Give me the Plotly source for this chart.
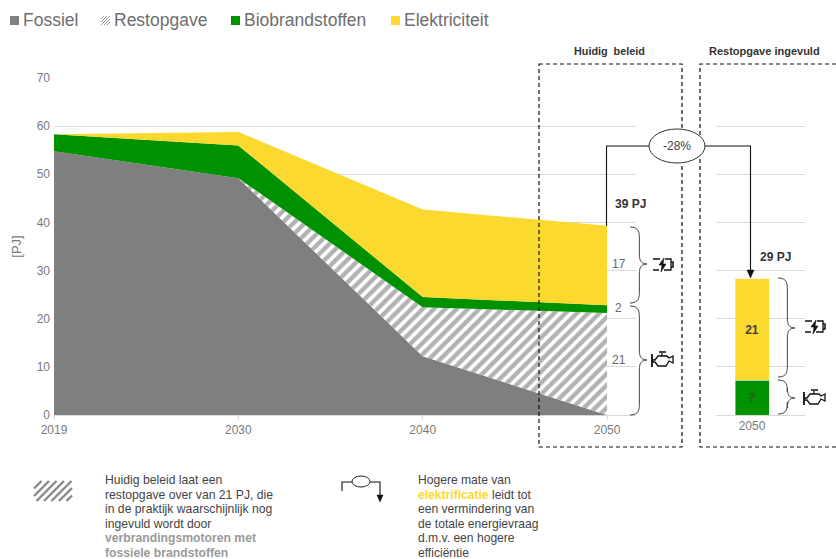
import plotly.graph_objects as go

W, H = 836, 559
YEARS = ["2019", "2030", "2040", "2050"]
FOSSIEL = [54.8, 49.2, 12.2, 0.0]
RESTOPGAVE = [0.0, 0.0, 10.2, 21.2]
BIOBRANDSTOFFEN = [3.5, 6.8, 2.1, 1.6]
ELEKTRICITEIT = [0.0, 2.8, 18.2, 16.5]
BAR_CATEGORY = ["2050"]
BAR_GROEN = [7.2]
BAR_GEEL = [21.1]
GREY, GREEN, YELLOW = "#7f7f7f", "#009100", "#fbd92f"
TXT, GRID = "#7a7a7a", "#d9d9d9"
FONT = "Liberation Sans"


def px(x):
    return x / W


def py(y):
    return 1 - y / H


def path(cmds):
    out = []
    for c in cmds:
        if isinstance(c, str):
            out.append(c)
        else:
            out.append(f"{px(c[0]):.5f},{py(c[1]):.5f}")
    return " ".join(out)


shapes = []


def add_path(cmds, color="#222", width=1.2, dash="solid", fill=None):
    s = dict(type="path", xref="paper", yref="paper", path=path(cmds),
             line=dict(color=color, width=width, dash=dash), layer="above")
    if fill:
        s["fillcolor"] = fill
    shapes.append(s)


def brace(x0, tip, y0, ymid, y1):
    c1 = x0 + (tip - x0) * 0.55
    add_path(["M", (x0, y0), "C", (c1, y0), (c1, y0 + 6), (c1, y0 + 12),
              "L", (c1, ymid - 10), "C", (c1, ymid - 3), (c1 + 2, ymid), (tip, ymid),
              "C", (c1 + 2, ymid), (c1, ymid + 3), (c1, ymid + 10),
              "L", (c1, y1 - 12), "C", (c1, y1 - 6), (c1, y1), (x0, y1)], color="#444", width=1)


def battery(x, y):
    add_path(["M", (x, y), "L", (x + 7, y), "M", (x + 12, y), "L", (x + 18, y), "L", (x + 18, y + 11),
              "L", (x + 11, y + 11), "M", (x + 6, y + 11), "L", (x, y + 11), "Z"], color="#111", width=1.3)
    add_path(["M", (x + 18, y + 3), "L", (x + 20, y + 3), "L", (x + 20, y + 8), "L", (x + 18, y + 8)], color="#111", width=1.5)
    add_path(["M", (x + 11, y - 1), "L", (x + 6, y + 6), "L", (x + 9, y + 6), "L", (x + 8, y + 13),
              "L", (x + 13, y + 5), "L", (x + 10, y + 5), "Z"], color="#111", width=0.6, fill="#111")


def engine(x, y):
    add_path(["M", (x, y + 2), "L", (x, y + 15)], color="#111", width=1.8)
    add_path(["M", (x, y + 8), "L", (x + 3, y + 8), "L", (x + 6, y + 4), "L", (x + 15, y + 4), "L", (x + 17, y + 6),
              "L", (x + 21, y + 4), "L", (x + 21, y + 11), "L", (x + 17, y + 9), "L", (x + 14, y + 14),
              "L", (x + 6, y + 14), "L", (x + 3, y + 10), "L", (x, y + 10)], color="#111", width=1.3)
    add_path(["M", (x + 10, y + 4), "L", (x + 10, y + 1), "M", (x + 7, y), "L", (x + 14, y)], color="#111", width=1.3)


def hatch_swatch(x0, y0, x1, y1, step, color=GREY, width=2.2):
    h = y1 - y0
    s = x0 - h
    while s < x1:
        xa, ya = s, y1
        xb, yb = s + h, y0
        if xa < x0:
            ya -= x0 - xa
            xa = x0
        if xb > x1:
            yb += xb - x1
            xb = x1
        if xb > xa:
            add_path(["M", (xa, ya), "L", (xb, yb)], color=color, width=width)
        s += step


fig = go.Figure()
fig.add_trace(go.Scatter(x=YEARS, y=FOSSIEL, name="Fossiel", stackgroup="a", mode="none", fillcolor=GREY))
fig.add_trace(go.Scatter(x=YEARS, y=RESTOPGAVE, name="Restopgave", stackgroup="a", mode="none",
                         fillcolor="white",
                         fillpattern=dict(shape="/", fgcolor="#666666", bgcolor="white", size=8, solidity=0.55)))
fig.add_trace(go.Scatter(x=YEARS, y=BIOBRANDSTOFFEN, name="Biobrandstoffen", stackgroup="a", mode="none", fillcolor=GREEN))
fig.add_trace(go.Scatter(x=YEARS, y=ELEKTRICITEIT, name="Elektriciteit", stackgroup="a", mode="none", fillcolor=YELLOW))

BAR_X = [0]
fig.add_trace(go.Bar(x=BAR_X, y=BAR_GROEN, name="Biobrandstoffen", marker_color=GREEN, xaxis="x2", yaxis="y2",
                     width=1, text=[f"<b>{v:.0f}</b>" for v in BAR_GROEN], textposition="inside",
                     insidetextanchor="middle", textangle=0, constraintext="none",
                     textfont=dict(family=FONT, size=12, color="#2a5c22")))
fig.add_trace(go.Bar(x=BAR_X, y=BAR_GEEL, name="Elektriciteit", marker_color=YELLOW, xaxis="x2", yaxis="y2",
                     width=1, text=[f"<b>{v:.0f}</b>" for v in BAR_GEEL], textposition="inside",
                     insidetextanchor="middle", textangle=0, constraintext="none",
                     textfont=dict(family=FONT, size=12, color="#3f3f3f")))

ann = []


def text(x, y, s, size=11.5, color=TXT, anchor="left", **kw):
    ann.append(dict(xref="paper", yref="paper", x=px(x), y=py(y), text=s, showarrow=False,
                    xanchor=anchor, yanchor="middle", borderpad=0, align=anchor,
                    font=dict(family=FONT, size=size, color=color), **kw))


LEG = [(10, "Fossiel", GREY), (101, "Restopgave", None), (231, "Biobrandstoffen", GREEN), (391, "Elektriciteit", YELLOW)]
for lx, name, col in LEG:
    if col:
        shapes.append(dict(type="rect", xref="paper", yref="paper", x0=px(lx), x1=px(lx + 9), y0=py(25), y1=py(16),
                           fillcolor=col, line_width=0))
    else:
        hatch_swatch(lx, 16, lx + 9, 25, 3, color="#999", width=1)
    text(lx + 12, 20, name, size=17.5, color="#6e6e6e")

add_path(["M", (539, 64), "L", (682, 64), "L", (682, 447), "L", (539, 447), "Z"], color="#111", width=1.2, dash="4px,3px")
add_path(["M", (836, 64), "L", (700, 64), "L", (700, 447), "L", (836, 447)], color="#111", width=1.2, dash="4px,3px")
text(609, 51, "<b>Huidig  beleid</b>", size=10.8, color="#333", anchor="center")
text(764.5, 51, "<b>Restopgave ingevuld</b>", size=11, color="#333", anchor="center")

add_path(["M", (606.5, 226), "L", (606.5, 146), "L", (650, 146)], color="#111", width=1.1)
add_path(["M", (705, 146), "L", (750.5, 146), "L", (750.5, 271)], color="#111", width=1.1)
add_path(["M", (747, 270), "L", (754, 270), "L", (750.5, 278), "Z"], color="#111", width=0.5, fill="#111")
shapes.append(dict(type="circle", xref="paper", yref="paper", x0=px(649), x1=px(705), y0=py(129), y1=py(163),
                   fillcolor="white", line=dict(color="#333", width=1), layer="above"))
text(677, 146, "-28%", size=12, color="#444", anchor="center")
text(614, 204, "<b>39 PJ</b>", size=12, color="#333")
text(759, 257, "<b>29 PJ</b>", size=12, color="#333")
text(610.5, 264, "17", size=12, color="#6a6a6a")
text(614, 308, "2", size=12, color="#6a6a6a")
text(610.5, 360, "21", size=12, color="#6a6a6a")

brace(630, 647, 227, 264, 303)
brace(630, 647, 306, 360, 415)
brace(778, 795, 278, 328, 377)
brace(778, 795, 380, 398, 414)
battery(653, 259)
engine(652, 352)
battery(805, 321)
engine(804, 390)

hatch_swatch(34, 481, 72, 501, 7.5, color="#8a8a8a", width=2.4)
add_path(["M", (342, 491), "L", (342, 482), "L", (352, 482)], color="#111", width=1.1)
add_path(["M", (370, 482), "L", (380, 482), "L", (380, 496)], color="#111", width=1.1)
add_path(["M", (377, 495), "L", (383, 495), "L", (380, 502), "Z"], color="#111", width=0.5, fill="#111")
shapes.append(dict(type="circle", xref="paper", yref="paper", x0=px(352), x1=px(370), y0=py(476), y1=py(487),
                   fillcolor="white", line=dict(color="#222", width=1), layer="above"))

NOTE_L = ["Huidig beleid laat een", "restopgave over van 21 PJ, die", "in de praktijk waarschijnlijk nog",
          "ingevuld wordt door", "<b><span style='color:#9a9a9a'>verbrandingsmotoren met</span></b>",
          "<b><span style='color:#9a9a9a'>fossiele brandstoffen</span></b>"]
NOTE_R = ["Hogere mate van", "<b><span style='color:#fbd92f'>elektrificatie</span></b> leidt tot", "een vermindering van",
          "de totale energievraag", "d.m.v. een hogere", "efficiëntie"]
for i, s in enumerate(NOTE_L):
    text(104, 480 + i * 14.6, s, size=12.2, color="#444")
for i, s in enumerate(NOTE_R):
    text(417, 480 + i * 14.6, s, size=12.1, color="#444")

tick = dict(family=FONT, size=12, color=TXT)
y_top, y_bot = 78, 415
fig.update_layout(
    width=W, height=H, margin=dict(l=0, r=0, t=0, b=0), paper_bgcolor="white", plot_bgcolor="white",
    showlegend=False, barmode="stack", shapes=shapes, annotations=ann,
    xaxis=dict(domain=[px(54), px(636)], type="category", categoryorder="array", categoryarray=YEARS,
               range=[0, 3.157], showgrid=False, showline=True, linecolor=GRID, ticks="outside", ticklen=4,
               tickcolor=GRID, tickfont=tick, anchor="y", zeroline=False, automargin=False),
    yaxis=dict(domain=[py(y_bot), py(y_top)], range=[0, 70], dtick=10, showgrid=True, gridcolor=GRID, gridwidth=1,
               tickfont=tick, zeroline=False, showline=False, ticks="", ticklabelstandoff=3, automargin=False,
               title=dict(text="[PJ]", font=dict(family=FONT, size=13, color=TXT), standoff=12)),
    xaxis2=dict(domain=[px(716), px(805)], range=[-36 / 34, 53 / 34], tickvals=BAR_X, ticktext=BAR_CATEGORY,
                showgrid=False, showline=True, linecolor=GRID, ticks="", tickfont=dict(family=FONT, size=12, color=TXT),
                anchor="y2", zeroline=False, automargin=False),
    yaxis2=dict(domain=[py(y_bot), py(y_top)], range=[0, 70], dtick=10, showgrid=True, gridcolor=GRID,
                showticklabels=False, zeroline=False, anchor="x2", ticks="", automargin=False),
)
fig.write_html("out.html", config=dict(displayModeBar=False), post_script="document.body.style.margin='0';")
